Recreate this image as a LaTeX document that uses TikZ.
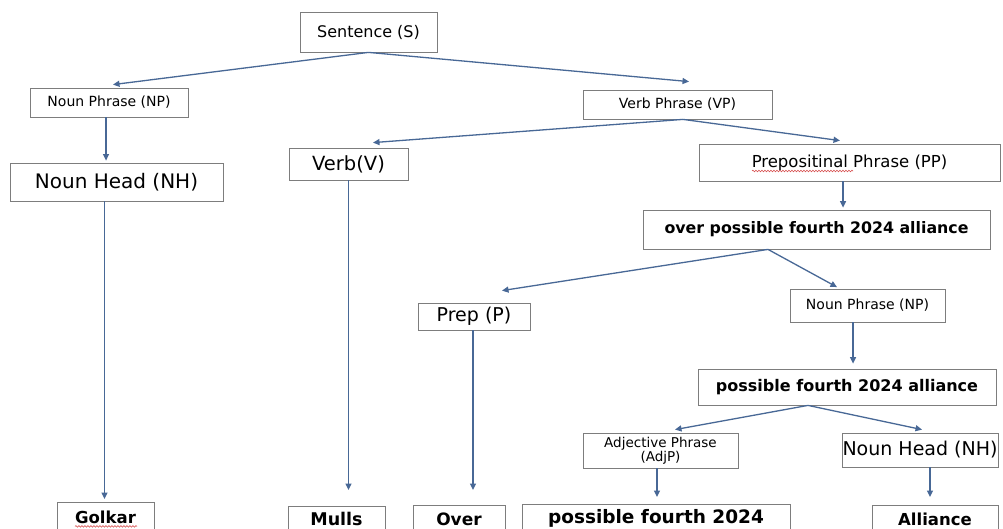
\documentclass[tikz,border=0pt]{standalone}
\usepackage{fontspec}
\setmainfont{DejaVu Sans}
\usetikzlibrary{arrows.meta,decorations.pathmorphing}
\definecolor{edgeblue}{RGB}{72,104,150}
\definecolor{framegray}{RGB}{125,125,125}
\definecolor{spellred}{RGB}{215,80,80}
\newcommand\fsz[1]{\fontsize{#1}{#1}\selectfont}
\begin{document}
\begin{tikzpicture}[x=1pt,y=-1pt,
  box/.style={draw=framegray,line width=0.8pt,fill=white,inner sep=0pt,align=center},
  link/.style={draw=edgeblue,line width=1.3pt,-{Triangle[length=6.5pt,width=6pt]}},
  squiggle/.style={draw=spellred,line width=0.6pt,decorate,
    decoration={snake,amplitude=0.8pt,segment length=3pt}}]
\useasboundingbox (0,0) rectangle (1003,529);
\clip (0,0) rectangle (1003,529);
\fill[white] (0,0) rectangle (1003,529);

% phrase structure boxes
\node[box,minimum width=137pt,minimum height=40pt,font=\fsz{16}] (S) at (368.5,32) {Sentence (S)};
\node[box,minimum width=158pt,minimum height=29pt,font=\fsz{14}] (NPa) at (109,102.5) {Noun Phrase (NP)};
\node[box,minimum width=189pt,minimum height=29pt,font=\fsz{14}] (VP) at (677.5,104.5) {Verb Phrase (VP)};
\node[box,minimum width=213pt,minimum height=38pt,font=\fsz{20}] (NHa) at (116.5,182) {Noun Head (NH)};
\node[box,minimum width=119pt,minimum height=32pt,font=\fsz{19.5}] (V) at (348.5,164) {Verb(V)};
\node[box,minimum width=301pt,minimum height=37pt,font=\fsz{16.5}] (PP) at (849.5,162.5) {Prepositinal Phrase (PP)};
\node[box,minimum width=347pt,minimum height=39pt,font=\fsz{15.8}\bfseries] (OPF) at (816.5,229.5) {over possible fourth 2024 alliance};
\node[box,minimum width=112pt,minimum height=27pt,font=\fsz{19}] (Prep) at (474,316.5) {Prep (P)};
\node[box,minimum width=155pt,minimum height=33pt,font=\fsz{14}] (NPb) at (867.5,305.5) {Noun Phrase (NP)};
\node[box,minimum width=298pt,minimum height=36pt,font=\fsz{16}\bfseries] (PFA) at (847,387) {possible fourth 2024 alliance};
\node[box,minimum width=155pt,minimum height=35pt,font=\fontsize{13.5}{12.5}\selectfont] (AdjP) at (660.5,450.5) {Adjective Phrase\\(AdjP)};
\node[box,minimum width=156pt,minimum height=34pt,font=\fsz{19}] (NHb) at (920,450) {Noun Head (NH)};

% word boxes along the bottom edge
\node[box,anchor=north,minimum width=97pt,minimum height=30pt,font=\fsz{16.5}\bfseries] (Golkar) at (105.5,502) {Golkar};
\node[box,anchor=north,minimum width=97pt,minimum height=26pt,font=\fsz{17.5}\bfseries] (Mulls) at (336.5,506) {Mulls};
\node[box,anchor=north,minimum width=92pt,minimum height=27pt,font=\fsz{17}\bfseries] (Over) at (459,505) {Over};
\node[box,anchor=north,minimum width=268pt,minimum height=28pt,font=\fsz{18.5}\bfseries] (PFb) at (656,504) {possible fourth 2024};
\node[box,anchor=north,minimum width=126pt,minimum height=27pt,font=\fsz{16.5}\bfseries] (Alliance) at (935,505) {Alliance};

% spell-check marks
\draw[squiggle] ([xshift=-30.5pt,yshift=-9pt]Golkar.center) -- ([xshift=31.5pt,yshift=-9pt]Golkar.center);
\draw[squiggle] ([xshift=-97.5pt,yshift=-8.5pt]PP.center) -- ([xshift=3.5pt,yshift=-8.5pt]PP.center);

% branches
\draw[link] (S.south) -- ([xshift=4pt,yshift=3pt]NPa.north);
\draw[link] (S.south) -- ([xshift=11.5pt,yshift=8pt]VP.north);
\draw[link] ([xshift=5.5pt]VP.south) -- ([xshift=24.5pt,yshift=5pt]V.north);
\draw[link] ([xshift=5.5pt]VP.south) -- ([xshift=-9.5pt,yshift=3pt]PP.north);
\draw[link] ([xshift=-6.5pt]PP.south) -- ([xshift=26.5pt,yshift=2pt]OPF.north);
\draw[link] ([xshift=-48.5pt]OPF.south) -- ([xshift=28pt,yshift=12pt]Prep.north);
\draw[link] ([xshift=-48.5pt]OPF.south) -- ([xshift=-30.5pt,yshift=1.5pt]NPb.north);
\draw[link] ([xshift=-14.5pt]NPb.south) -- ([xshift=6pt,yshift=5pt]PFA.north);
\draw[link] ([xshift=-39pt]PFA.south) -- ([xshift=14.5pt,yshift=3pt]AdjP.north);
\draw[link] ([xshift=-39pt]PFA.south) -- ([xshift=2pt,yshift=3pt]NHb.north);
\draw[link] ([xshift=-3pt]NPa.south) -- ([xshift=-10.5pt,yshift=2pt]NHa.north);
\draw[link] ([xshift=-12pt]NHa.south) -- ([xshift=-1pt,yshift=3pt]Golkar.north);
\draw[link] (V.south) -- ([xshift=12pt,yshift=16pt]Mulls.north);
\draw[link] ([xshift=-1pt]Prep.south) -- ([xshift=14pt,yshift=15pt]Over.north);
\draw[link] ([xshift=-3.5pt]AdjP.south) -- ([xshift=1pt,yshift=7pt]PFb.north);
\draw[link] ([xshift=10pt]NHb.south) -- ([xshift=-5pt,yshift=8pt]Alliance.north);
\end{tikzpicture}
\end{document}
